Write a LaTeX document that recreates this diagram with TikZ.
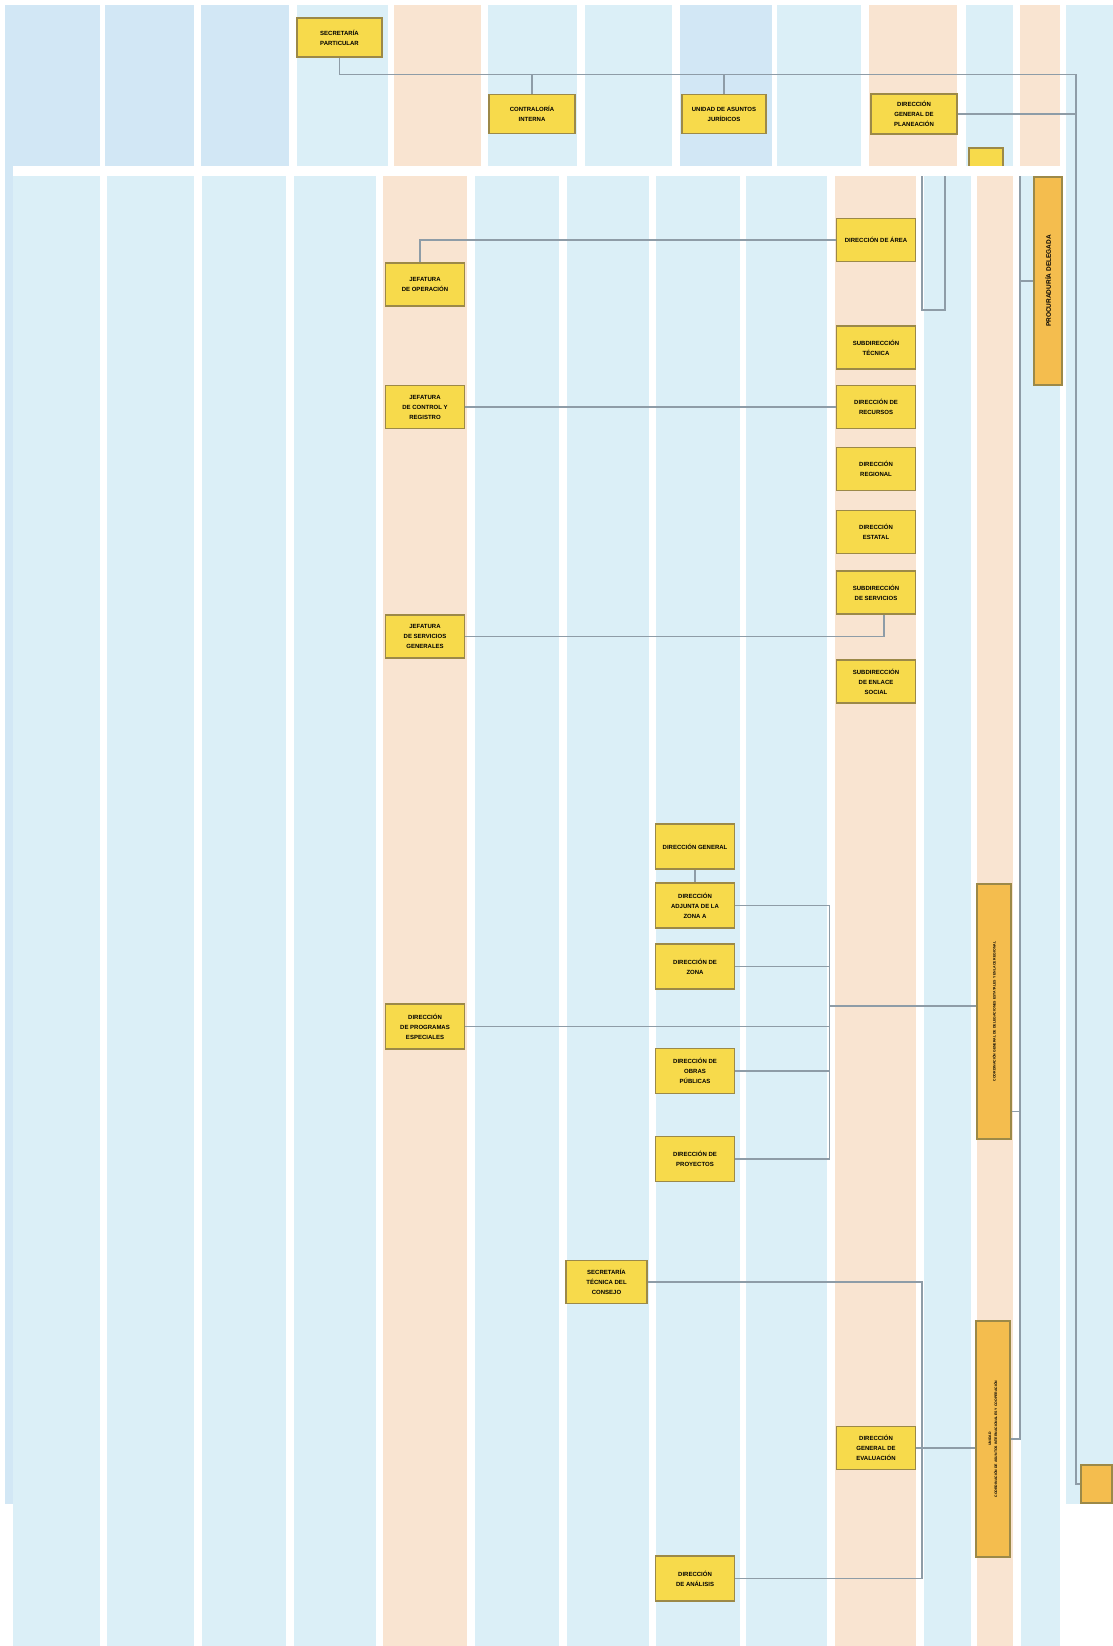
\documentclass[tikz,border=0pt]{standalone}
\usepackage{fontspec}
\setsansfont{Liberation Sans}
\definecolor{azul}{HTML}{DBEFF7}
\definecolor{azulf}{HTML}{D2E7F5}
\definecolor{durazno}{HTML}{F9E4D1}
\definecolor{amarillo}{HTML}{F7DA4B}
\definecolor{naranja}{HTML}{F4BD4E}
\definecolor{borde}{HTML}{9C8948}
\definecolor{linea}{HTML}{8E9CA7}

\begin{document}
\begin{tikzpicture}[x=1pt, y=-1pt,
	unidad/.style={draw=borde, fill=amarillo, line width=1.4pt, minimum width=79pt, minimum height=43pt, inner sep=1pt, align=center, font=\sffamily\bfseries\fontsize{6}{10}\selectfont},
	vertical/.style={draw=borde, fill=naranja, line width=1.4pt, inner sep=0pt},
	liga/.style={draw=linea, line width=1.6pt}]
	\useasboundingbox (0,0) rectangle (1113,1646);

	\foreach \a/\b/\c in {5/100/azulf, 105/194/azulf, 201/289/azulf, 297/388/azul, 394/481/durazno, 488/577/azul, 585/672/azul, 680/772/azulf, 777/861/azul, 869/957/durazno, 966/1013/azul, 1020/1060/durazno, 1066/1113/azul}
		\fill[\c] (\a,5) rectangle (\b,1504);

	\node[unidad, minimum width=85pt, minimum height=39pt] (A) at (339.5,37.5) {SECRETARÍA\\PARTICULAR};
	\node[unidad, minimum width=86pt, minimum height=39pt] (B) at (532,114) {CONTRALORÍA\\INTERNA};
	\node[unidad, minimum width=84pt, minimum height=39pt] (C) at (724,114) {UNIDAD DE ASUNTOS\\JURÍDICOS};
	\node[unidad, minimum width=86pt, minimum height=40pt] (D) at (914,114) {DIRECCIÓN\\GENERAL DE\\PLANEACIÓN};
	\node[unidad, minimum width=34pt, minimum height=34pt] (E) at (986,165) {};
	\node[vertical, minimum width=31pt, minimum height=38pt] (BR) at (1096.5,1484) {};

	\draw[liga] (A.south) |- (1076,74.5) |- (BR.west);
	\draw[liga] (B.north) -- (532,74.5);
	\draw[liga] (C.north) -- (724,74.5);
	\draw[liga] (D.east) -- (1076,114);

	\fill[white] (13,166) rectangle (1063,1646);
	\foreach \a/\b/\c in {13/100/azul, 107/194/azul, 202/286/azul, 294/376/azul, 383/467/durazno, 475/559/azul, 567/649/azul, 656/740/azul, 746/827/azul, 835/916/durazno, 924/971/azul, 977/1013/durazno, 1021/1060/azul}
		\fill[\c] (\a,176) rectangle (\b,1646);

	\node[unidad] (F) at (876,240) {DIRECCIÓN DE ÁREA};
	\node[unidad] (G) at (425,284.5) {JEFATURA\\DE OPERACIÓN};
	\node[unidad] (H) at (876,347.5) {SUBDIRECCIÓN\\TÉCNICA};
	\node[unidad] (I) at (876,407) {DIRECCIÓN DE\\RECURSOS};
	\node[unidad] (J) at (425,407) {JEFATURA\\DE CONTROL Y\\REGISTRO};
	\node[unidad] (K) at (876,469) {DIRECCIÓN\\REGIONAL};
	\node[unidad] (L) at (876,532) {DIRECCIÓN\\ESTATAL};
	\node[unidad] (M) at (876,592.5) {SUBDIRECCIÓN\\DE SERVICIOS};
	\node[unidad] (N) at (425,636.5) {JEFATURA\\DE SERVICIOS\\GENERALES};
	\node[unidad] (O) at (876,681.5) {SUBDIRECCIÓN\\DE ENLACE\\SOCIAL};
	\node[unidad, minimum height=45pt] (P) at (695,846.5) {DIRECCIÓN GENERAL};
	\node[unidad, minimum height=45pt] (Q) at (695,905.5) {DIRECCIÓN\\ADJUNTA DE LA\\ZONA A};
	\node[unidad, minimum height=45pt] (R) at (695,966.5) {DIRECCIÓN DE\\ZONA};
	\node[unidad, minimum height=45pt] (S) at (425,1026.5) {DIRECCIÓN\\DE PROGRAMAS\\ESPECIALES};
	\node[unidad, minimum height=45pt] (U) at (695,1071) {DIRECCIÓN DE\\OBRAS\\PÚBLICAS};
	\node[unidad, minimum height=45pt] (V) at (695,1159) {DIRECCIÓN DE\\PROYECTOS};
	\node[unidad, minimum width=81pt] (X) at (606.5,1282) {SECRETARÍA\\TÉCNICA DEL\\CONSEJO};
	\node[unidad] (Y) at (876,1448) {DIRECCIÓN\\GENERAL DE\\EVALUACIÓN};
	\node[unidad, minimum height=45pt] (Z) at (695,1578.5) {DIRECCIÓN\\DE ANÁLISIS};

	\node[vertical, minimum width=28pt, minimum height=208pt, label={[rotate=90, font=\sffamily\bfseries\fontsize{6.5}{8}\selectfont]center:PROCURADURÍA DELEGADA}] (T) at (1048,281) {};
	\node[vertical, minimum width=34pt, minimum height=255pt, label={[rotate=90, font=\sffamily\bfseries\fontsize{3.5}{5}\selectfont]center:COORDINACIÓN GENERAL DE DELEGACIONES ESTATALES Y ENLACE REGIONAL}] (W) at (994,1011.5) {};
	\node[vertical, minimum width=34pt, minimum height=236pt, label={[rotate=90, align=center, font=\sffamily\bfseries\fontsize{3.5}{6}\selectfont]center:UNIDAD\\COORDINACIÓN DE ASUNTOS INTERNACIONALES Y COOPERACIÓN}] (W2) at (993,1439) {};

	\coordinate (u1) at (922,176);
	\coordinate (u2) at (945,176);
	\coordinate (d1) at (1020,176);
	\coordinate (barra) at (829.5,1006);
	\coordinate (x1) at (922,1282);

	\draw[liga] (u1) |- (945,310) -- (u2);
	\draw[liga] (F.west) -| ([xshift=-5pt]G.north);
	\draw[liga] (J.east) -- (I.west);
	\draw[liga] ([xshift=8pt]M.south) |- (N.east);
	\draw[liga] (P.south) -- (Q.north);
	\draw[liga] (Q.east) -| (V.east -| barra) -- (V.east);
	\draw[liga] (R.east) -- (R.east -| barra);
	\draw[liga] (U.east) -- (U.east -| barra);
	\draw[liga] (S.east) -- (S.east -| barra);
	\draw[liga] (barra) -- (barra -| W.west);
	\draw[liga] (d1) |- (W2.east);
	\draw[liga] (T.west -| d1) -- (T.west);
	\draw[liga] ([yshift=-100pt]W.east) -- ([yshift=-100pt]W.east -| d1);
	\draw[liga] (Y.east) -- (Y.east -| W2.west);
	\draw[liga] (X.east) -| (Z.east -| x1) -- (Z.east);
\end{tikzpicture}
\end{document}
